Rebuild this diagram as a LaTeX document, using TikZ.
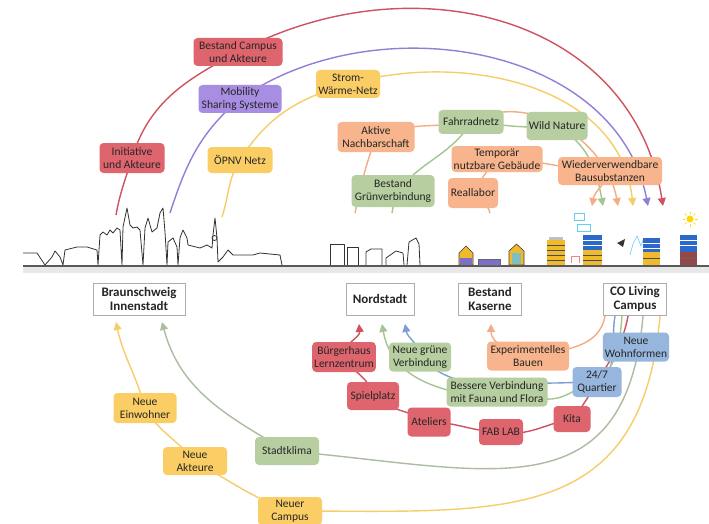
\documentclass[tikz,border=0pt]{standalone}
\usepackage{fontspec}
\setmainfont{Carlito}
\usetikzlibrary{arrows.meta,backgrounds}
\definecolor{bred}{RGB}{222,100,110}
\definecolor{bpur}{RGB}{168,142,226}
\definecolor{byel}{RGB}{250,206,100}
\definecolor{bsal}{RGB}{248,180,140}
\definecolor{bgrn}{RGB}{182,206,160}
\definecolor{bblu}{RGB}{150,182,222}
\definecolor{lred}{RGB}{206,82,95}
\definecolor{lpur}{RGB}{146,126,216}
\definecolor{lyel}{RGB}{246,205,105}
\definecolor{lsal}{RGB}{244,172,132}
\definecolor{lgrn}{RGB}{164,196,144}
\definecolor{lblu}{RGB}{122,160,210}
\definecolor{lgry}{RGB}{172,188,162}
\definecolor{hyel}{RGB}{240,186,45}
\definecolor{hblu}{RGB}{45,105,200}
\definecolor{hpur}{RGB}{125,110,200}
\definecolor{hbrn}{RGB}{150,72,72}
\tikzset{
  sz/.style 2 args={minimum width=#1pt, minimum height=#2pt},
  tag/.style={rounded corners=4pt, align=center, inner xsep=2pt, inner ysep=1pt,
              font=\fontsize{11.5}{13}\selectfont, text=black!85},
  redb/.style={tag, fill=bred},
  purb/.style={tag, fill=bpur},
  yelb/.style={tag, fill=byel},
  salb/.style={tag, fill=bsal},
  grnb/.style={tag, fill=bgrn},
  blub/.style={tag, fill=bblu},
  place/.style={draw=gray!65, line width=0.8pt, fill=white, align=center, inner sep=2pt,
                font=\fontsize{13}{14.5}\selectfont\bfseries, text=black!85},
  lnk/.style={line width=1.4pt, -{Triangle[length=2.8mm,width=2.8mm]}},
  sky/.style={black!80, line width=0.8pt, line join=round},
}

\begin{document}
\begin{tikzpicture}[x=1pt, y=1pt]
  \useasboundingbox (0,0) rectangle (709,-524);

  % city skyline and ground
  \draw[sky] (23,-253) -- (37,-253) -- (45,-265) -- (52,-257) -- (55,-251) -- (60,-257) -- (63,-265)
    -- (65,-250) -- (77,-247) -- (87,-247) -- (97,-250) -- (98,-265) -- (100,-235) -- (103,-232)
    -- (107,-235) -- (110,-230) -- (113,-233) -- (117,-228) -- (120,-230) -- (122,-265) -- (123,-227)
    -- (127,-208) -- (130,-225) -- (133,-228) -- (137,-227) -- (140,-230) -- (143,-265) -- (145,-228)
    -- (148,-218) -- (152,-232) -- (157,-228) -- (160,-213) -- (163,-208) -- (165,-232) -- (167,-265)
    -- (168,-242) -- (173,-238) -- (177,-247) -- (178,-265) -- (180,-238) -- (183,-230) -- (187,-238)
    -- (188,-245) -- (200,-248) -- (207,-245) -- (212,-248) -- (213,-235) -- (215,-218) -- (217,-238)
    -- (218,-262) -- (223,-257) -- (228,-250) -- (233,-255) -- (253,-255) -- (260,-253) -- (280,-255)
    -- (282,-265);
  \draw[sky] (214.5,-238) circle (2.5);
  \draw[sky] (330,-265) -- (330,-244) -- (344,-244) -- (344,-265);
  \draw[sky] (347,-265) -- (347,-247) -- (358,-247) -- (358,-265);
  \draw[sky] (366,-265) -- (366,-252) -- (371,-249) -- (382,-249) -- (382,-265);
  \draw[sky] (386,-265) -- (386,-258) -- (396,-251) -- (403,-253) -- (404,-265);
  \draw[sky] (407,-265) -- (409,-242) -- (416,-238) -- (419,-244) -- (420,-265);
  \fill[gray!18] (23,-267) rectangle (709,-273);
  \draw[gray!70!black, line width=1.8pt] (23,-266) -- (709,-266);

  % houses of the barracks
  \filldraw[fill=hyel, draw=black!75, line width=.6pt] (459,-265) -- (459,-253) -- (466,-246) -- (473,-253) -- (473,-265) -- cycle;
  \fill[hpur] (460,-258) rectangle (472,-265);
  \filldraw[fill=hpur, draw=black!60, line width=.6pt] (478,-259) rectangle (500,-265);
  \filldraw[fill=hyel, draw=black!75, line width=.6pt] (509,-265) -- (509,-251) -- (516.5,-244) -- (524,-251) -- (524,-265) -- cycle;
  \fill[teal!50] (512,-253) rectangle (521,-264);

  % campus blocks
  \fill[hyel] (547,-265) rectangle (565,-240);
  \foreach \y in {245,250,255,260}{\draw[black!70, line width=1pt] (547,-\y) -- (565,-\y);}
  \fill[gray!50] (549,-240) rectangle (563,-237);
  \fill[hblu] (583,-250) rectangle (602,-235);
  \fill[hyel] (583,-265) rectangle (602,-250);
  \foreach \y in {240,245}{\draw[white, line width=.8pt] (583,-\y) -- (602,-\y);}
  \foreach \y in {255,260}{\draw[black!70, line width=1pt] (583,-\y) -- (602,-\y);}
  \fill[hblu] (643,-252) rectangle (660,-238);
  \fill[hyel] (643,-265) rectangle (660,-252);
  \foreach \y in {243,248}{\draw[white, line width=.8pt] (643,-\y) -- (660,-\y);}
  \draw[black!70, line width=1pt] (643,-258) -- (660,-258);
  \fill[hblu] (680,-252) rectangle (697,-235);
  \fill[hbrn] (680,-265) rectangle (697,-252);
  \foreach \y in {240,245}{\draw[white, line width=.8pt] (680,-\y) -- (697,-\y);}
  \draw[black!60, line width=1pt] (680,-258) -- (697,-258);
  \draw[red!50, line width=.6pt] (571,-263) -- (571,-256) -- (579,-256) -- (579,-263);
  \draw[cyan!60, line width=.6pt] (574,-213) rectangle (584,-220) (577,-224) rectangle (590,-231);
  \draw[cyan!60, line width=.6pt] (630,-255) -- (633,-244) -- (637,-236) -- (641,-246) -- (643,-240);
  \fill[black!80] (617,-243) -- (625,-239) -- (623,-247) -- cycle;
  \fill[yellow!75!orange] (690,-219) circle (3.5);
  \foreach \a in {0,45,...,315}{\draw[yellow!75!orange, line width=.7pt] (690,-219) ++(\a:5) -- ++(\a:2.5);}

  % topics above the line
  \node[redb, sz={89}{28}] (campA) at (238,-52) {Bestand Campus\\und Akteure};
  \node[purb, sz={83}{28}] (mobil) at (240,-99) {Mobility\\Sharing Systeme};
  \node[yelb, sz={64}{28}] (strom) at (348,-84) {Strom-\\Wärme-Netz};
  \node[redb, sz={65}{30}] (initA) at (132,-158) {Initiative\\und Akteure};
  \node[yelb, sz={65}{26}] (oepnv) at (240,-160) {ÖPNV Netz};
  \node[salb, sz={77}{30}] (aktiv) at (376,-137) {Aktive\\Nachbarschaft};
  \node[grnb, sz={65}{24}] (fahrrad) at (471,-122) {Fahrradnetz};
  \node[grnb, sz={61}{28}] (wild) at (557,-126) {Wild Nature};
  \node[salb, sz={91}{26}] (tempo) at (497,-159) {Temporär\\nutzbare Gebäude};
  \node[salb, sz={104}{28}] (reuse) at (610,-171) {Wiederverwendbare\\Bausubstanzen};
  \node[grnb, sz={83}{32}] (gruen) at (393,-191) {Bestand\\Grünverbindung};
  \node[salb, sz={50}{30}] (lab) at (473,-193) {Reallabor};

  % places
  \node[place, sz={92}{32}] (bsInnen) at (139,-299) {Braunschweig\\Innenstadt};
  \node[place, sz={68}{32}] (nord) at (380,-299) {Nordstadt};
  \node[place, sz={63}{32}] (kaserne) at (490,-299) {Bestand\\Kaserne};
  \node[place, sz={63}{32}] (colive) at (635,-299) {CO Living\\Campus};

  % topics below the line
  \node[yelb, sz={63}{30}] (einw) at (145,-408) {Neue\\Einwohner};
  \node[yelb, sz={64}{28}] (akteure) at (195,-461) {Neue\\Akteure};
  \node[yelb, sz={64}{28}] (ncampus) at (290,-511) {Neuer\\Campus};
  \node[grnb, sz={64}{28}] (stadtk) at (287,-451) {Stadtklima};
  \node[redb, sz={62}{30}] (buerger) at (344,-357) {Bürgerhaus\\Lernzentrum};
  \node[redb, sz={52}{28}] (spiel) at (373,-396) {Spielplatz};
  \node[grnb, sz={62}{29}] (ngruen) at (420,-357) {Neue grüne\\Verbindung};
  \node[salb, sz={82}{29}] (exper) at (528,-356) {Experimentelles\\Bauen};
  \node[blub, sz={65}{29}] (wohn) at (636,-347) {Neue\\Wohnformen};
  \node[grnb, sz={101}{29}] (bessere) at (497,-392) {Bessere Verbindung\\mit Fauna und Flora};
  \node[blub, sz={49}{30}] (quart) at (597,-382) {24/7\\Quartier};
  \node[redb, sz={43}{29}] (atel) at (429,-422) {Ateliers};
  \node[redb, sz={44}{26}] (fablab) at (501,-432) {FAB LAB};
  \node[redb, sz={37}{26}] (kita) at (572,-419) {Kita};

  % line ends
  \coordinate (rS) at (116,-215);  \coordinate (rE) at (663,-206);
  \coordinate (pS) at (170,-213);  \coordinate (pE) at (648,-206);
  \coordinate (yS) at (222,-217);  \coordinate (yE) at (633,-206);
  \coordinate (sS) at (355,-213);  \coordinate (sE) at (618,-206);
  \coordinate (gS) at (392,-213);  \coordinate (gE) at (603,-206);
  \coordinate (lS) at (490,-213);  \coordinate (lE) at (592,-206);
  \coordinate (c1) at (605,-316);  \coordinate (c2) at (615,-316);
  \coordinate (c3) at (622,-316);  \coordinate (c4) at (628,-316);
  \coordinate (c5) at (643,-316);  \coordinate (c6) at (660,-316);
  \coordinate (kT) at (491,-324);
  \coordinate (nR) at (359,-324);  \coordinate (nG) at (382,-324);  \coordinate (nB) at (405,-324);
  \coordinate (bY) at (116,-322);  \coordinate (bG) at (162,-322);

  \begin{scope}[on background layer]
    \fill[white] (0,0) rectangle (709,-524);
    % into the campus
    \draw[lnk, lred] (rS) to[out=80,in=253] (initA.center) to[out=73,in=208] (campA.center)
      to[out=28,in=99,looseness=1.1] (rE);
    \draw[lnk, lpur] (pS) to[out=72,in=220] (mobil.center) to[out=35,in=101] (pE);
    \draw[lnk, lyel] (yS) to[out=72,in=238] (oepnv.center) to[out=58,in=196] (strom.center)
      to[out=16,in=96] (yE);
    \draw[lnk, lsal] (sS) to[out=78,in=250] (aktiv.center) to[out=25,in=190] (fahrrad.center)
      to[out=30,in=100] (sE);
    \draw[lnk, lgrn] (gS) to[out=82,in=240] (fahrrad.center) to[out=-5,in=185] (wild.center)
      to[out=-30,in=100] (gE);
    \draw[lnk, lsal] (lS) to[out=100,in=-60] (lab.center) to[out=60,in=230] (tempo.center)
      to[out=0,in=180] (reuse.center) to[out=-110,in=80] (lE);
    % out of the campus
    \draw[lnk, lsal] (c1) to[out=-100,in=10] (exper.center) to[out=170,in=-90] (kT);
    \draw[lnk, lblu] (c2) to[out=-100,in=30] (quart.center) to[out=180,in=0] (bessere.10)
      to[out=180,in=-45] (ngruen.center) to[out=95,in=-80] (nB);
    \draw[lnk, lgrn] (c3) to[out=-95,in=40] (quart.center) to[out=190,in=0] (bessere.-8)
      to[out=180,in=-80] (nG);
    \draw[lnk, lred] (c4) to[out=-100,in=60] (quart.center) to[out=240,in=50] (kita.center)
      to[out=190,in=-10] (fablab.center) to[out=180,in=0] (atel.center)
      to[out=150,in=-40] (spiel.center) to[out=100,in=-60] (buerger.center) to[out=95,in=-85] (nR);
    \draw[lnk, lgry] (c5) to[out=-95,in=-5,looseness=1.35] (stadtk.center) to[out=150,in=-75] (bG);
    \draw[lnk, lyel] (c6) to[out=-95,in=0,looseness=1.3] (ncampus.center) to[out=160,in=-30] (akteure.center)
      to[out=130,in=-60] (einw.center) to[out=105,in=-78] (bY);
  \end{scope}
\end{tikzpicture}
\end{document}
